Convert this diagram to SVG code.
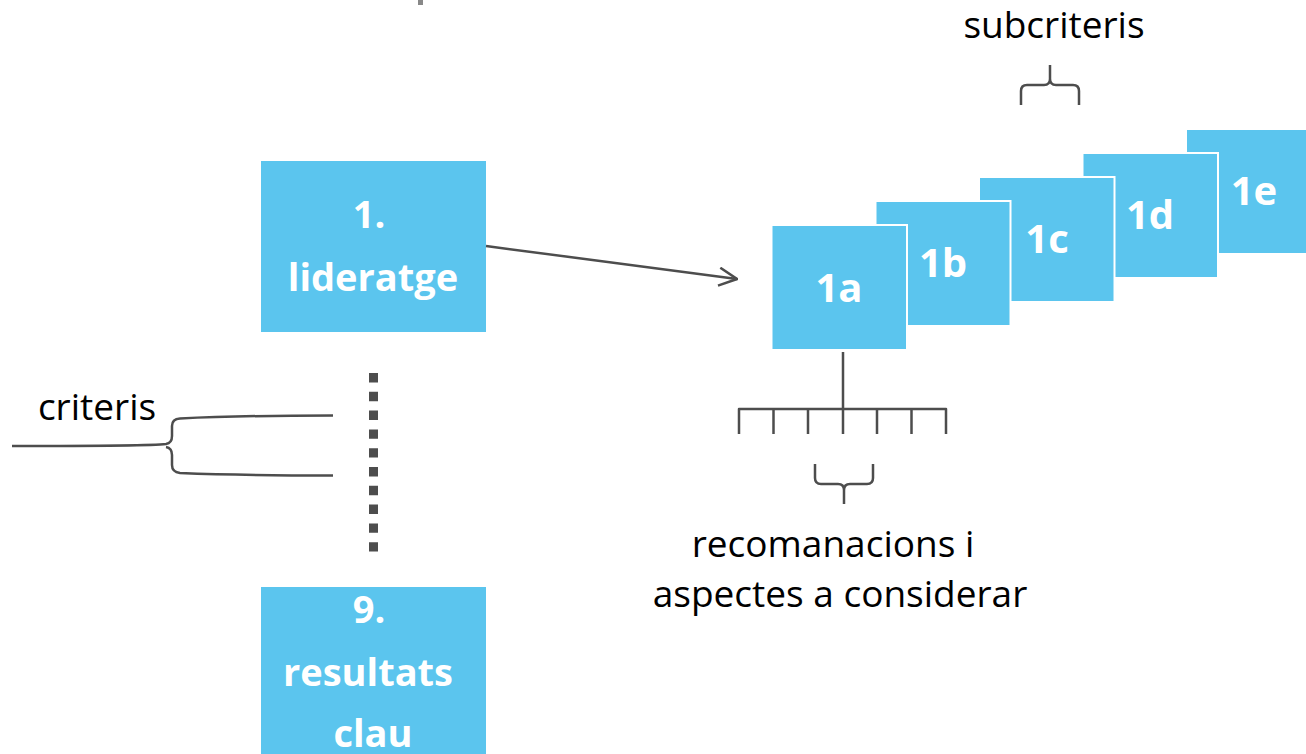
<svg xmlns="http://www.w3.org/2000/svg" width="1306" height="754" viewBox="0 0 1306 754">
<style>
.box{fill:#5bc5ee}
.sub{fill:#5bc5ee;stroke:#ffffff;stroke-width:2}
.bl{font-family:"Open Sans","Liberation Sans",sans-serif;font-weight:bold;fill:#ffffff;text-anchor:middle}
.lbl{font-family:"Open Sans","Liberation Sans",sans-serif;font-size:37px;fill:#000000;text-anchor:middle}
.ln{fill:none;stroke:#4d4d4d;stroke-width:2.5;stroke-linecap:butt;stroke-linejoin:round}
</style>
<defs>
<marker id="chev" viewBox="0 0 20 20" refX="19" refY="10" markerWidth="20" markerHeight="20" markerUnits="userSpaceOnUse" orient="auto">
<path d="M1,1 L19,10 L1,19" fill="none" stroke="#4d4d4d" stroke-width="2.5" stroke-linejoin="miter"/>
</marker>
</defs>
<rect x="418" y="0" width="5" height="5" fill="#888888"/>
<g id="node-1">
<rect class="box" x="261" y="161" width="225" height="171"/>
<text class="bl" font-size="38" x="369" y="228">1.</text>
<text class="bl" font-size="38" x="373" y="291">lideratge</text>
</g>
<g id="node-9">
<rect class="box" x="261" y="587" width="225" height="170"/>
<text class="bl" font-size="38" x="369" y="623">9.</text>
<text class="bl" font-size="38" x="368" y="686">resultats</text>
<text class="bl" font-size="38" x="373" y="747">clau</text>
</g>
<g id="node-1e">
<rect class="sub" x="1186" y="129" width="135" height="125"/>
<text class="bl" font-size="40" x="1254" y="205">1e</text>
</g>
<g id="node-1d">
<rect class="sub" x="1082.5" y="153" width="135.5" height="125"/>
<text class="bl" font-size="40" x="1150" y="229">1d</text>
</g>
<g id="node-1c">
<rect class="sub" x="979" y="177" width="135.5" height="125"/>
<text class="bl" font-size="40" x="1047" y="253">1c</text>
</g>
<g id="node-1b">
<rect class="sub" x="875.5" y="201" width="135" height="125"/>
<text class="bl" font-size="40" x="943" y="277">1b</text>
</g>
<g id="node-1a">
<rect class="sub" x="771.5" y="225" width="135.5" height="125"/>
<text class="bl" font-size="40" x="839" y="302">1a</text>
</g>
<g id="connectors">
<line class="ln" x1="486" y1="246" x2="737" y2="279" marker-end="url(#chev)"/>
<line x1="373.5" y1="373" x2="373.5" y2="552" stroke="#4d4d4d" stroke-width="9" stroke-dasharray="9.4 9.4"/>
<path class="ln" d="M12,446 C80,446 150,446 166,444 Q172,443 172,436 L172,426 Q172,419 180,418.5 C230,416 290,415.5 333,415.5"/>
<path class="ln" d="M166,447 Q172,448 172,455 L172,465 Q172,472 180,473 C230,475 290,475.5 333,475.5"/>
<path class="ln" d="M843,352 L843,409 M739,434 L739,409 L946,409 L946,434 M773.5,409 L773.5,434 M808,409 L808,434 M843,409 L843,434 M877,409 L877,434 M911.5,409 L911.5,434"/>
<path class="ln" d="M815,464 L815,478 Q815,484 821,484 L838,484 Q844,484 844,490 L844,504 M844,490 Q844,484 850,484 L867,484 Q873,484 873,478 L873,464"/>
<path class="ln" d="M1021,105 L1021,91 Q1021,85 1027,85 L1044,85 Q1050,85 1050,79 L1050,65 M1050,79 Q1050,85 1056,85 L1073,85 Q1079,85 1079,91 L1079,105"/>
</g>
<g id="labels">
<text class="lbl" x="1054" y="38">subcriteris</text>
<text class="lbl" x="97" y="420">criteris</text>
<text class="lbl" x="833" y="557">recomanacions i</text>
<text class="lbl" x="840" y="607">aspectes a considerar</text>
</g>
</svg>
